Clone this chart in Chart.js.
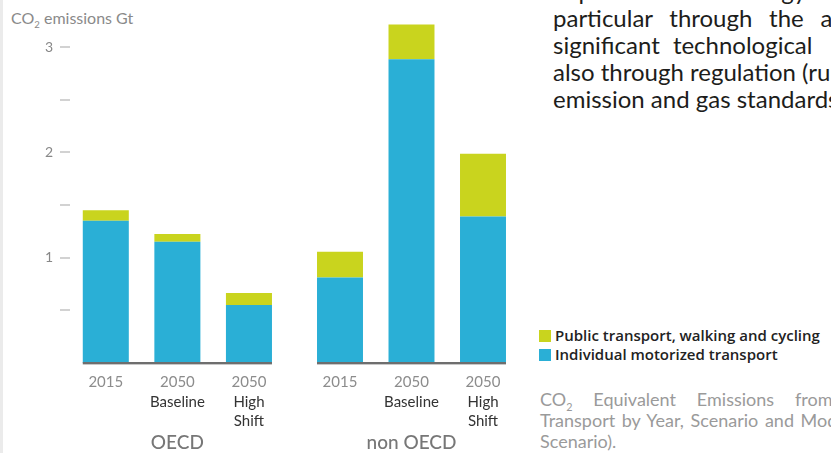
<!DOCTYPE html>
<html>
  <head>
    <script src="https://cdn.jsdelivr.net/npm/chart.js"></script>
    <style>
      html, body { margin: 0; padding: 0; background: #fff; width: 831px; height: 453px; overflow: hidden; }
      body { position: relative; font-family: Lato, sans-serif; }
      .strip { position: absolute; left: 0; top: 0; width: 3px; height: 453px; background: #ebebeb; }
      canvas { position: absolute; top: 0; }
      #oecdChart { left: 0; }
      #nonOecdChart { left: 290px; }
      .ylabel { position: absolute; left: 11px; top: 8px; font-size: 16px; color: #8a8a8a; white-space: nowrap; }
      sub { font-size: 60%; line-height: 0; }
      .article { position: absolute; left: 553px; top: -23px; font-size: 24px; line-height: 27px; color: #1d1d1b; white-space: nowrap; }
      .article div { width: 400px; }
      .article .just { text-align: justify; text-align-last: justify; }
      .legend { position: absolute; left: 539px; top: 326px; font-family: 'Open Sans', sans-serif; font-size: 15px; font-weight: 600; color: #222; line-height: 19px; white-space: nowrap; }
      .legend span.box { display: inline-block; width: 12px; height: 12px; margin-right: 4px; vertical-align: -1px; }
      .caption { position: absolute; left: 540px; top: 389px; font-size: 18px; line-height: 21px; color: #9a9a9a; white-space: nowrap; }
      .caption .just { width: 362px; text-align: justify; text-align-last: justify; }
    </style>
  </head>
  <body>
    <div class="strip"></div>
    <div class="ylabel">CO<sub>2</sub> emissions Gt</div>
    <canvas id="oecdChart" width="290" height="453"></canvas>
    <canvas id="nonOecdChart" width="230" height="453"></canvas>

    <div class="article">
      <div class="just">improve vehicle energy efficiency, in</div>
      <div class="just">particular through the adoption of</div>
      <div style="word-spacing: 7px">significant technological &nbsp;advances, but</div>
      <div>also through regulation (rules on fuel</div>
      <div>emission and gas standards).</div>
    </div>

    <div class="legend">
      <div><span class="box" style="background:#c9d41e"></span>Public transport, walking and cycling</div>
      <div><span class="box" style="background:#2aafd6"></span>Individual motorized transport</div>
    </div>

    <div class="caption">
      <div class="just">CO<sub>2</sub> Equivalent Emissions from Urban</div>
      <div style="word-spacing: 2px">Transport by Year, Scenario and Mode (High Shift</div>
      <div>Scenario).</div>
    </div>

    <script>
      // data (Gt CO2)
      const yearLabels = ['2015', '2050', '2050'];
      const scenarioLabels = ['', 'Baseline', ['High', 'Shift']];
      const oecdMotorized = [1.35, 1.15, 0.55];
      const oecdPublic = [0.10, 0.075, 0.115];
      const nonOecdMotorized = [0.81, 2.88, 1.39];
      const nonOecdPublic = [0.245, 0.33, 0.595];
      const yTicks = [0.5, 1, 1.5, 2, 2.5, 3];

      const blue = '#2aafd6';
      const green = '#c9d41e';

      Chart.defaults.font.family = 'Lato, sans-serif';

      // grey base line under the bars of a group
      const baselinePlugin = {
        id: 'baseline',
        afterDatasetsDraw(chart) {
          const bars = chart.getDatasetMeta(0).data;
          const first = bars[0].getProps(['x', 'width'], true);
          const last = bars[bars.length - 1].getProps(['x', 'width'], true);
          const x0 = first.x - first.width / 2;
          const x1 = last.x + last.width / 2;
          const y = chart.scales.y.getPixelForValue(0);
          const ctx = chart.ctx;
          ctx.save();
          ctx.fillStyle = '#c8c8c8';
          ctx.fillRect(x0, y + 1, x1 - x0, 1);
          ctx.fillStyle = '#6e6e6e';
          ctx.fillRect(x0, y - 1, x1 - x0, 2);
          ctx.restore();
        }
      };

      function makeChart(id, motorized, publicTransport, groupName, showY, padLeft, padRight) {
        return new Chart(document.getElementById(id), {
          type: 'bar',
          data: {
            labels: yearLabels,
            datasets: [
              { label: 'Individual motorized transport', data: motorized, backgroundColor: blue },
              { label: 'Public transport, walking and cycling', data: publicTransport, backgroundColor: green }
            ]
          },
          options: {
            responsive: false,
            animation: false,
            barPercentage: 0.643,
            categoryPercentage: 1,
            layout: { padding: { top: 15, left: padLeft, right: padRight, bottom: 0 } },
            plugins: { legend: { display: false }, tooltip: { enabled: false } },
            scales: {
              x: {
                stacked: true,
                weight: 0,
                grid: { display: false, drawTicks: false },
                border: { display: false },
                ticks: { color: '#8c8c8c', font: { size: 15 }, padding: 10, maxRotation: 0, autoSkip: false },
                afterFit: s => { s.height = 28; }
              },
              x2: {
                type: 'category',
                labels: scenarioLabels,
                offset: true,
                position: 'bottom',
                weight: 1,
                grid: { display: false, drawTicks: false },
                border: { display: false },
                ticks: { color: '#333', font: { size: 15, lineHeight: 1.25 }, padding: 2, maxRotation: 0, autoSkip: false },
                title: { display: true, text: groupName, color: '#777', font: { size: 19, weight: 500, lineHeight: 1.1 }, padding: { top: 0, bottom: 0 } },
                afterFit: s => { s.height = 62; }
              },
              y: {
                display: showY,
                stacked: true,
                min: 0,
                max: 3.3,
                afterBuildTicks: s => { s.ticks = yTicks.map(v => ({ value: v })); },
                grid: { drawOnChartArea: false, tickLength: 10, color: '#d2d2d2', lineWidth: 2 },
                border: { display: false },
                ticks: { color: '#888', font: { size: 14 }, padding: 7, callback: v => Number.isInteger(v) ? v : '' },
                afterFit: s => { s.width = showY ? 70 : 0; }
              }
            }
          },
          plugins: [baselinePlugin]
        });
      }

      makeChart('oecdChart', oecdMotorized, oecdPublic, 'OECD', true, 0, 5.25);
      makeChart('nonOecdChart', nonOecdMotorized, nonOecdPublic, 'non OECD', false, 14.25, 1.25);
    </script>
  </body>
</html>
